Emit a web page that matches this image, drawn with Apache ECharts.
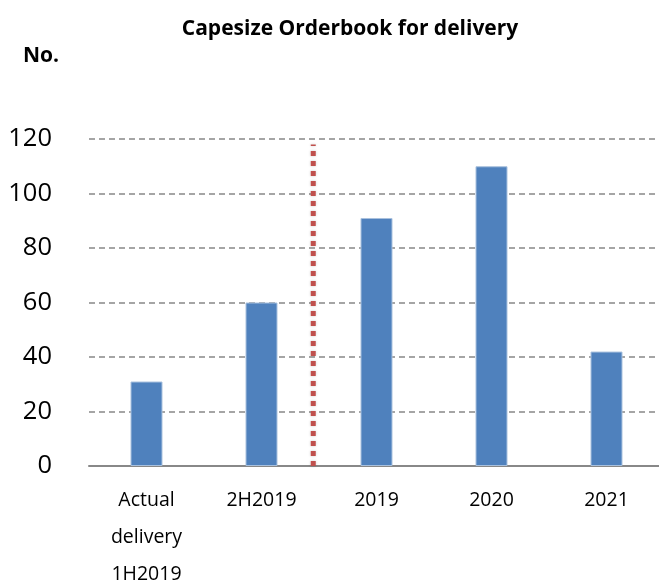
<!DOCTYPE html>
<html><head><meta charset="utf-8">
<script src="https://cdn.jsdelivr.net/npm/echarts@6/dist/echarts.min.js"></script>
<style>html,body{margin:0;padding:0;background:#fff}#c{width:659px;height:584px}</style>
</head><body><div id="c"></div>
<script>
var categories = ['Actual\ndelivery\n1H2019', '2H2019', '2019', '2020', '2021'];
var values = [31, 60, 91, 110, 42];
var yTicks = [0, 20, 40, 60, 80, 100, 120];
var dividerX = 1.45;
var dividerTop = 118;

var chart = echarts.init(document.getElementById('c'));
var FONT = 'Open Sans';
chart.setOption({
  animation: false,
  title: [{
    text: 'Capesize Orderbook for delivery', left: 345, top: 14, textAlign: 'center',
    textStyle: {fontFamily: FONT, fontSize: 21, fontWeight: 'bold', color: '#000'}
  }, {
    text: 'No.', left: 36, top: 41, textAlign: 'center',
    textStyle: {fontFamily: FONT, fontSize: 21, fontWeight: 'bold', color: '#000'}
  }],
  grid: {left: 89, top: 139, width: 575, height: 327, containLabel: false, outerBoundsMode: 'none'},
  xAxis: [{
    type: 'category', data: categories,
    axisLine: {lineStyle: {color: '#888', width: 2}},
    axisTick: {show: false},
    axisLabel: {fontFamily: FONT, fontSize: 19.5, color: '#000', lineHeight: 37, margin: 16, interval: 0}
  }, {
    type: 'value', min: -0.5, max: 4.5, show: false
  }],
  yAxis: {
    type: 'value', min: yTicks[0], max: yTicks[yTicks.length - 1], interval: 20,
    axisLine: {show: false}, axisTick: {show: false},
    axisLabel: {fontFamily: FONT, fontSize: 25.5, color: '#000', margin: 37},
    splitLine: {lineStyle: {color: '#888', type: [6, 4], width: 1.5}}
  },
  series: [{
    type: 'bar', data: values, barWidth: 32, xAxisIndex: 0,
    itemStyle: {color: '#4F81BD', borderColor: '#A9C1DE', borderWidth: 1}
  }, {
    type: 'line', xAxisIndex: 1, symbol: 'none', z: 5,
    data: [[dividerX, 0], [dividerX, dividerTop]],
    lineStyle: {color: '#C0504D', width: 5, type: [5, 5], cap: 'butt',
      shadowColor: 'rgba(0,0,0,0.2)', shadowBlur: 3}
  }]
});
</script></body></html>
